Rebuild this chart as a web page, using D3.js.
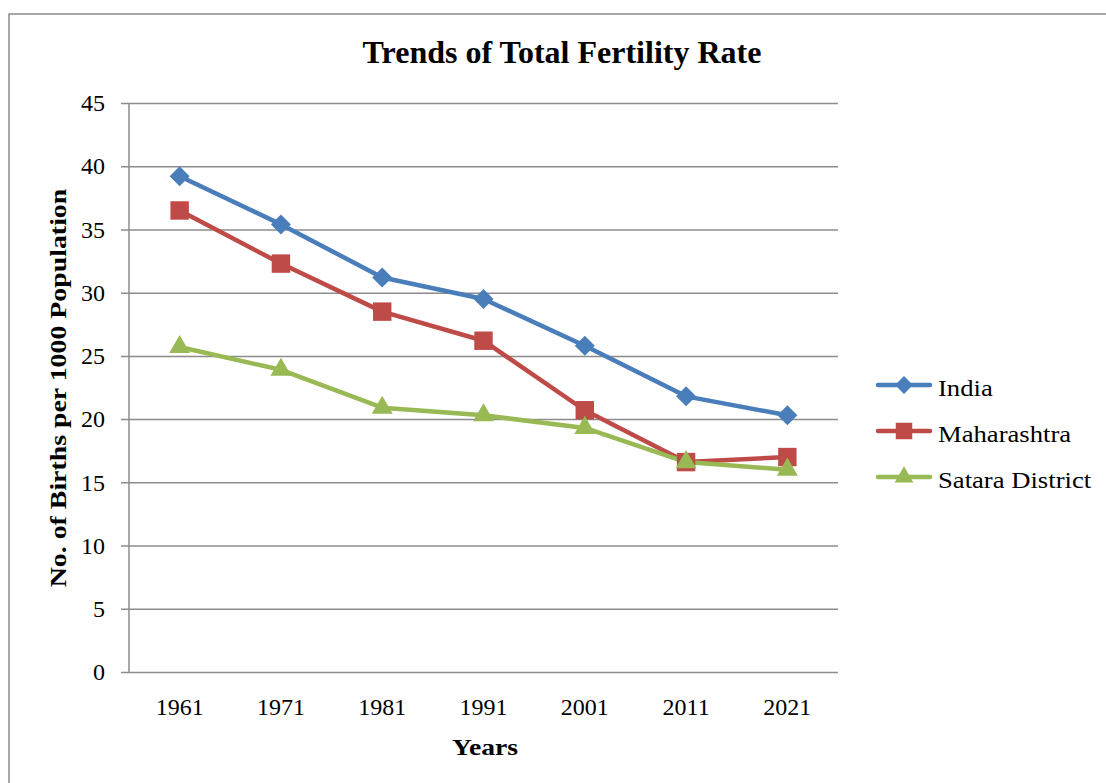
<!DOCTYPE html>
<html>
<head>
<meta charset="utf-8">
<script src="https://cdn.jsdelivr.net/npm/d3@7"></script>
<style>
  body { margin: 0; background: #fff; }
  text { font-family: "Liberation Serif", "Times New Roman", serif; fill: #000; }
</style>
</head>
<body>
<script>
// chart data
const years = ["1961", "1971", "1981", "1991", "2001", "2011", "2021"];
const india = [39.2, 35.4, 31.2, 29.5, 25.8, 21.8, 20.3];
const maharashtra = [36.5, 32.3, 28.5, 26.2, 20.7, 16.6, 17.0];
const satara = [25.7, 23.9, 20.9, 20.3, 19.3, 16.6, 16.0];
const seriesNames = ["India", "Maharashtra", "Satara District"];
const yTicks = [0, 5, 10, 15, 20, 25, 30, 35, 40, 45];

// square turned 45 degrees, like the office diamond marker
const diamond = {
    draw(ctx, size) {
        const r = Math.sqrt(size / 2);
        ctx.moveTo(0, -r);
        ctx.lineTo(r, 0);
        ctx.lineTo(0, r);
        ctx.lineTo(-r, 0);
        ctx.closePath();
    }
};

const series = [
    { name: seriesNames[0], values: india, color: "#4A7EBB", shape: diamond, size: 200 },
    { name: seriesNames[1], values: maharashtra, color: "#BE4B48", shape: d3.symbolSquare, size: 340 },
    { name: seriesNames[2], values: satara, color: "#98B954", shape: d3.symbolTriangle, size: 190 }
];

const width = 1106, height = 783;
const plotLeft = 129, plotRight = 838, plotTop = 103, plotBottom = 672;
const serif = "'Liberation Serif', 'Times New Roman', serif";

// the source text is a bit wider than Times, stretch it a little
function stretch(sel, k) {
    sel.each(function () {
        let w = this.getComputedTextLength();
        d3.select(this)
            .attr("textLength", w * k)
            .attr("lengthAdjust", "spacingAndGlyphs");
    });
}

let svg = d3.select("body").append("svg")
    .attr("width", width)
    .attr("height", height);

// outer frame (only top and left visible)
svg.append("path")
    .attr("d", `M9,${height + 5}V14H${width + 5}`)
    .attr("fill", "none")
    .attr("stroke", "#8c8c8c")
    .attr("stroke-width", 1.5);

let x = d3.scaleBand().domain(years).range([plotLeft, plotRight]);
let y = d3.scaleLinear().domain([0, 45]).range([plotBottom, plotTop]);

// gridlines + y ticks
let yAxis = svg.append("g")
    .attr("transform", `translate(${plotLeft},0)`)
    .call(d3.axisLeft(y).tickValues(yTicks).tickSize(-(plotRight - plotLeft)).tickSizeOuter(0).tickPadding(24));
yAxis.select(".domain").remove();
yAxis.selectAll(".tick line")
    .attr("x1", -8)
    .attr("stroke", "#8c8c8c")
    .attr("stroke-width", 1.5);
yAxis.selectAll(".tick text")
    .style("font-size", "24px")
    .style("font-family", serif);

// y axis line
svg.append("line")
    .attr("x1", plotLeft).attr("x2", plotLeft)
    .attr("y1", plotTop).attr("y2", plotBottom)
    .attr("stroke", "#8c8c8c")
    .attr("stroke-width", 1.5);

// x axis labels
let xAxis = svg.append("g")
    .attr("transform", `translate(0,${plotBottom})`)
    .call(d3.axisBottom(x).tickSize(0).tickPadding(26));
xAxis.select(".domain").remove();
xAxis.selectAll(".tick text")
    .style("font-size", "24px")
    .style("font-family", serif);

// lines and markers
let line = d3.line()
    .x((d, i) => x(years[i]) + x.bandwidth() / 2)
    .y(d => y(d));

series.forEach(s => {
    svg.append("path")
        .datum(s.values)
        .attr("fill", "none")
        .attr("stroke", s.color)
        .attr("stroke-width", 4.5)
        .attr("stroke-linejoin", "round")
        .attr("d", line);
});

series.forEach(s => {
    svg.append("g")
        .selectAll("path")
        .data(s.values)
        .enter().append("path")
        .attr("transform", (d, i) => `translate(${x(years[i]) + x.bandwidth() / 2},${y(d)})`)
        .attr("d", d3.symbol().type(s.shape).size(s.size))
        .attr("fill", s.color);
});

// title
svg.append("text")
    .attr("x", 562).attr("y", 63)
    .attr("text-anchor", "middle")
    .style("font-size", "32px")
    .style("font-weight", "bold")
    .text("Trends of Total Fertility Rate");

// axis titles
svg.append("text")
    .attr("x", 485).attr("y", 755)
    .attr("text-anchor", "middle")
    .style("font-size", "24px")
    .style("font-weight", "bold")
    .text("Years")
    .call(stretch, 1.15);

svg.append("text")
    .attr("transform", "translate(66,388) rotate(-90)")
    .attr("text-anchor", "middle")
    .style("font-size", "24px")
    .style("font-weight", "bold")
    .text("No. of Births per 1000 Population")
    .call(stretch, 1.16);

// legend
let legend = svg.append("g");
series.forEach((s, i) => {
    let ly = 385 + i * 46;
    legend.append("line")
        .attr("x1", 878).attr("x2", 930)
        .attr("y1", ly).attr("y2", ly)
        .attr("stroke", s.color)
        .attr("stroke-width", 4.5)
        .attr("stroke-linecap", "round");
    legend.append("path")
        .attr("transform", `translate(904,${ly})`)
        .attr("d", d3.symbol().type(s.shape).size(s.size * 0.8))
        .attr("fill", s.color);
    legend.append("text")
        .attr("x", 938).attr("y", ly + 11)
        .style("font-size", "24px")
        .text(s.name)
        .call(stretch, 1.11);
});
</script>
</body>
</html>
